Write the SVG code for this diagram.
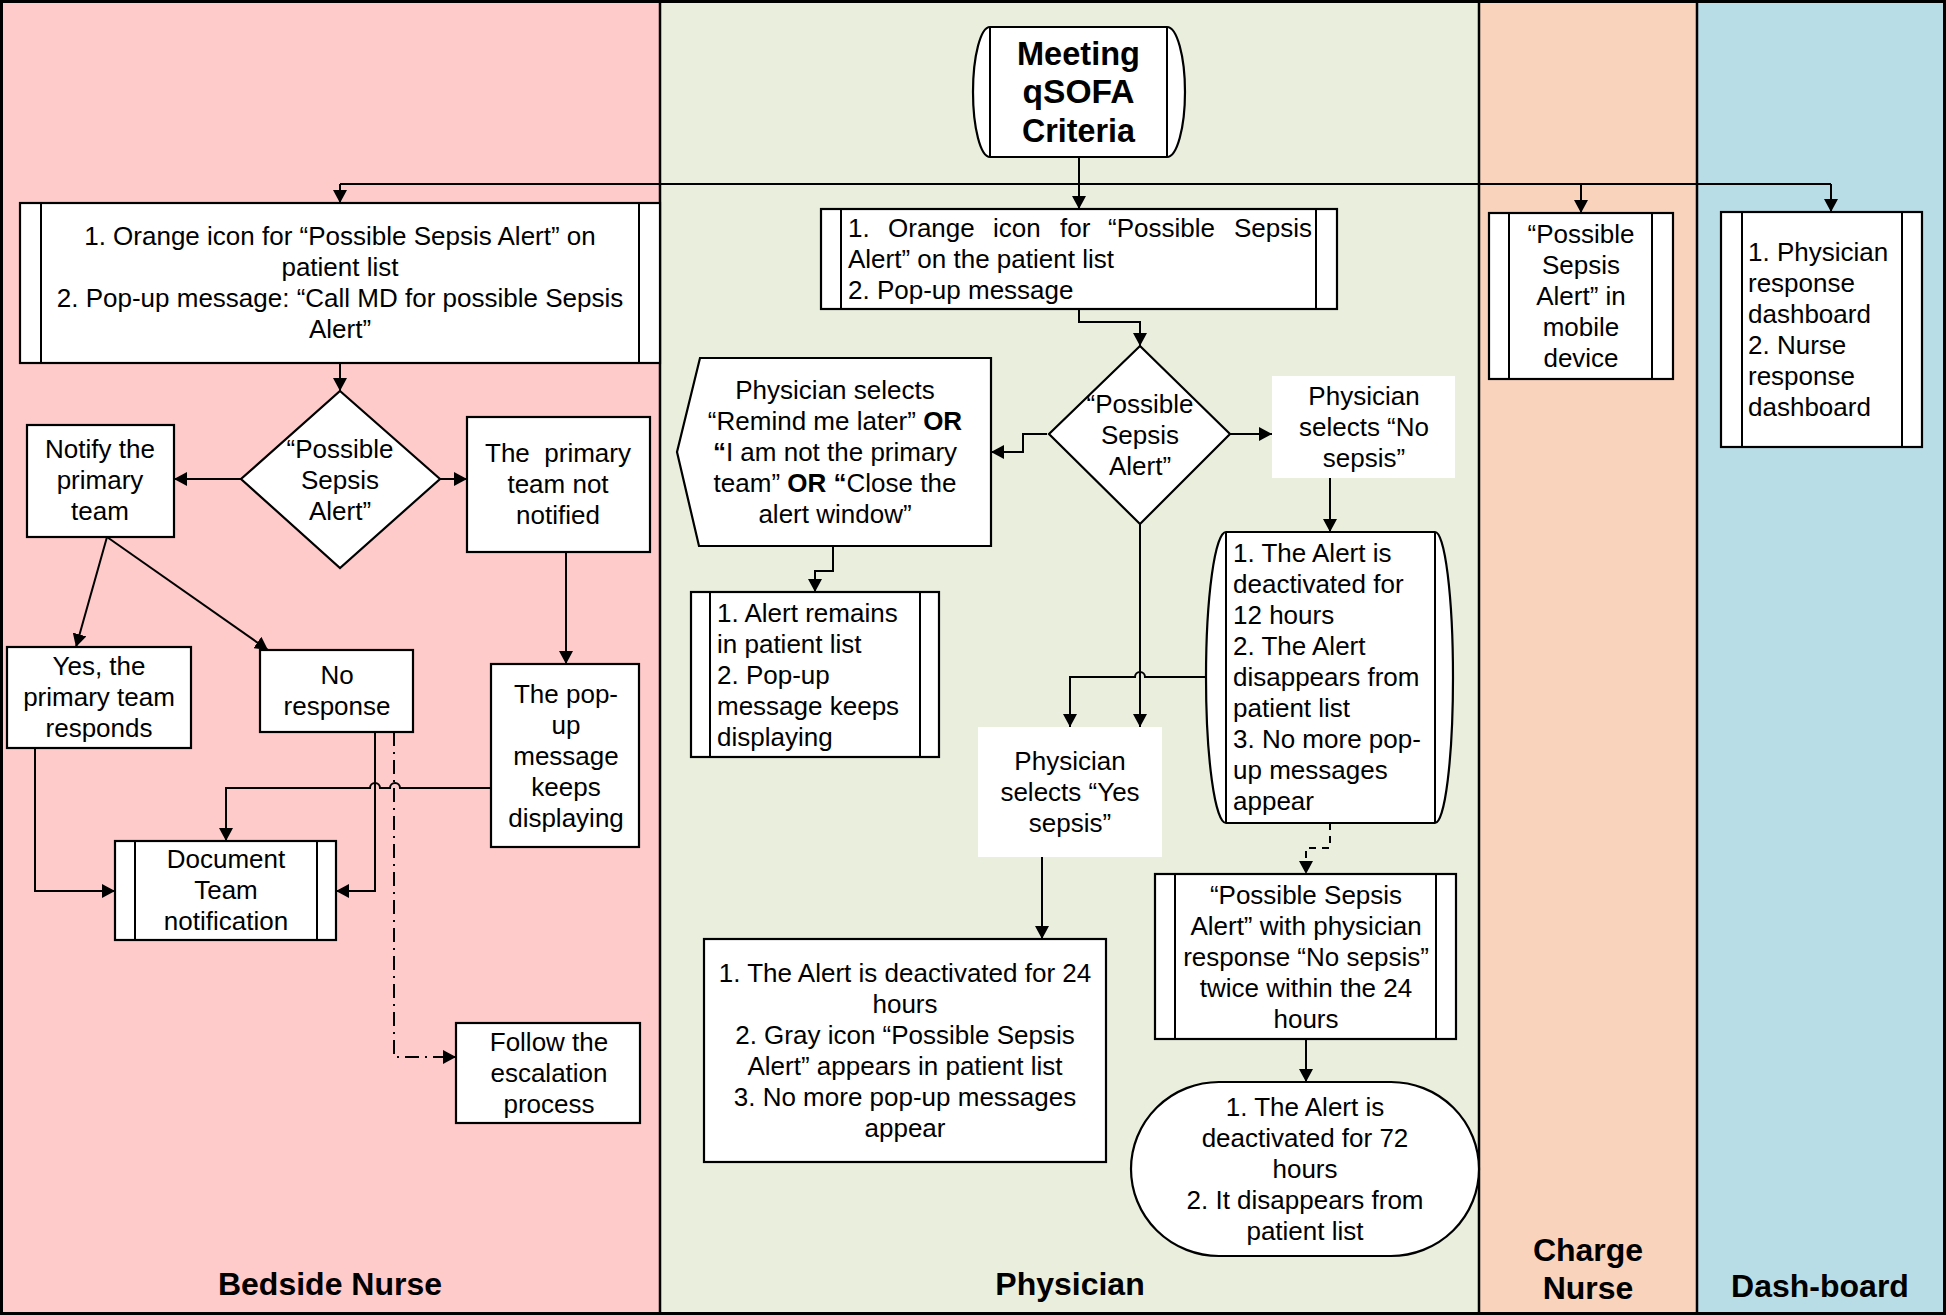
<svg xmlns="http://www.w3.org/2000/svg" width="1946" height="1315" viewBox="0 0 1946 1315">
<defs>
<marker id="ah" viewBox="0 0 13 14" refX="13" refY="7" markerWidth="13" markerHeight="14" markerUnits="userSpaceOnUse" orient="auto"><path d="M0,0 L13,7 L0,14 z" fill="#000"/></marker>
<style>
.box{fill:#fff;stroke:#000;stroke-width:2.2}
.wbox{fill:#fff;stroke:none}
.in{stroke:#000;stroke-width:2;fill:none}
.t{font-family:"Liberation Sans",Arial,sans-serif;font-size:26px;fill:#000}
.c{text-anchor:middle}
.b{font-weight:bold}
.big{font-size:33px}
.lab{font-family:"Liberation Sans",Arial,sans-serif;font-size:32px;font-weight:bold;text-anchor:middle;fill:#000}
.cn{fill:none;stroke:#000;stroke-width:2;marker-end:url(#ah)}
.ln{fill:none;stroke:#000;stroke-width:2}
.lane{stroke:#000;stroke-width:2.5}
</style>
</defs>
<g id="lanes">
<rect x="0" y="0" width="660" height="1315" fill="#FFCACA"/>
<rect x="660" y="0" width="819" height="1315" fill="#E9EEDD"/>
<rect x="1479" y="0" width="218" height="1315" fill="#F9D3BC"/>
<rect x="1697" y="0" width="249" height="1315" fill="#B9DDE7"/>
<line class="lane" x1="660" y1="0" x2="660" y2="1315"/>
<line class="lane" x1="1479" y1="0" x2="1479" y2="1315"/>
<line class="lane" x1="1697" y1="0" x2="1697" y2="1315"/>
<rect x="1.5" y="1.5" width="1943" height="1312" fill="none" stroke="#000" stroke-width="3"/>
<text class="lab" x="330" y="1295">Bedside Nurse</text>
<text class="lab" x="1070" y="1295">Physician</text>
<text class="lab" x="1588" y="1261">Charge</text>
<text class="lab" x="1588" y="1299">Nurse</text>
<text class="lab" x="1820" y="1297">Dash-board</text>
</g>
<g id="connectors">
<path class="ln" d="M340,184 H1831"/>
<path class="cn" d="M1079,157 V209"/>
<path class="cn" d="M340,184 V203"/>
<path class="cn" d="M1581,184 V213"/>
<path class="cn" d="M1831,184 V212"/>
<path class="cn" d="M340,363 V391"/>
<path class="cn" d="M241,479 H174"/>
<path class="cn" d="M440,479 H467"/>
<path class="cn" d="M107,537 L76,647"/>
<path class="cn" d="M107,537 L268,650"/>
<path class="cn" d="M566,552 V664"/>
<path class="cn" d="M35,748 V891 H115"/>
<path class="cn" d="M375,732 V891 H336"/>
<path class="cn" d="M491,788 H400 A5,5 0 0 0 390,788 H380 A5,5 0 0 0 370,788 H226 V841"/>
<path class="cn" d="M394,732 V1057 H456" stroke-dasharray="14,6,2,6"/>
<path class="cn" d="M1079,309 V322 H1140 V346"/>
<path class="cn" d="M1047,434 H1023 V452 H991"/>
<path class="cn" d="M833,546 V571 H815 V592"/>
<path class="cn" d="M1230,434 H1272"/>
<path class="cn" d="M1330,478 V532"/>
<path class="cn" d="M1140,524 V727"/>
<path class="cn" d="M1206,677 H1145 A5,5 0 0 0 1135,677 H1070 V727"/>
<path class="cn" d="M1330,823 V848 H1306 V874" stroke-dasharray="7,6"/>
<path class="cn" d="M1306,1039 V1082"/>
<path class="cn" d="M1042,857 V939"/>
</g>
<g id="n-meeting">
<path class="box" d="M990,27 H1167 A18,65 0 0 1 1167,157 H990 A17,65 0 0 1 990,27 Z"/>
<path class="in" d="M990,27 V157 M1167,27 V157"/>
<text class="t c b big"><tspan x="1078.5" y="65" textLength="123" lengthAdjust="spacingAndGlyphs">Meeting</tspan><tspan x="1078.5" y="103" textLength="112" lengthAdjust="spacingAndGlyphs">qSOFA</tspan><tspan x="1078.5" y="142" textLength="113" lengthAdjust="spacingAndGlyphs">Criteria</tspan></text>
</g>
<g id="n-bn-alert">
<rect class="box" x="20" y="203" width="640" height="160"/>
<path class="in" d="M41,203 V363 M639,203 V363"/>
<text class="t c"><tspan x="340" y="245">1. Orange icon for “Possible Sepsis Alert” on</tspan><tspan x="340" y="276">patient list</tspan><tspan x="340" y="307">2. Pop-up message: “Call MD for possible Sepsis</tspan><tspan x="340" y="338">Alert”</tspan></text>
</g>
<g id="n-bn-decision">
<polygon class="box" points="340,391 440,479 340,568 241,479"/>
<text class="t c"><tspan x="340" y="458">“Possible</tspan><tspan x="340" y="489">Sepsis</tspan><tspan x="340" y="520">Alert”</tspan></text>
</g>
<g id="n-notify">
<rect class="box" x="27" y="425" width="147" height="112"/>
<text class="t c"><tspan x="100" y="458">Notify the</tspan><tspan x="100" y="489">primary</tspan><tspan x="100" y="520">team</tspan></text>
</g>
<g id="n-not-notified">
<rect class="box" x="467" y="417" width="183" height="135"/>
<text class="t c"><tspan x="558" y="462">The&#160; primary</tspan><tspan x="558" y="493">team not</tspan><tspan x="558" y="524">notified</tspan></text>
</g>
<g id="n-yes-responds">
<rect class="box" x="7" y="647" width="184" height="101"/>
<text class="t c"><tspan x="99" y="675">Yes, the</tspan><tspan x="99" y="706">primary team</tspan><tspan x="99" y="737">responds</tspan></text>
</g>
<g id="n-no-response">
<rect class="box" x="260" y="650" width="153" height="82"/>
<text class="t c"><tspan x="337" y="684">No</tspan><tspan x="337" y="715">response</tspan></text>
</g>
<g id="n-popup-keeps">
<rect class="box" x="491" y="664" width="148" height="183"/>
<text class="t c"><tspan x="566" y="703">The pop-</tspan><tspan x="566" y="734">up</tspan><tspan x="566" y="765">message</tspan><tspan x="566" y="796">keeps</tspan><tspan x="566" y="827">displaying</tspan></text>
</g>
<g id="n-document">
<rect class="box" x="115" y="841" width="221" height="99"/>
<path class="in" d="M135,841 V940 M317,841 V940"/>
<text class="t c"><tspan x="226" y="868">Document</tspan><tspan x="226" y="899">Team</tspan><tspan x="226" y="930">notification</tspan></text>
</g>
<g id="n-escalation">
<rect class="box" x="456" y="1023" width="184" height="100"/>
<text class="t c"><tspan x="549" y="1051">Follow the</tspan><tspan x="549" y="1082">escalation</tspan><tspan x="549" y="1113">process</tspan></text>
</g>
<g id="n-ph-alert">
<rect class="box" x="821" y="209" width="516" height="100"/>
<path class="in" d="M841,209 V309 M1316,209 V309"/>
<text class="t"><tspan x="848" y="237">1.</tspan><tspan x="888" y="237">Orange</tspan><tspan x="993" y="237">icon</tspan><tspan x="1060" y="237">for</tspan><tspan x="1108" y="237">“Possible</tspan><tspan x="1234" y="237">Sepsis</tspan><tspan x="848" y="268">Alert” on the patient list</tspan><tspan x="848" y="299">2. Pop-up message</tspan></text>
</g>
<g id="n-ph-decision">
<polygon class="box" points="1140,346 1230,434 1140,524 1049,434"/>
<text class="t c"><tspan x="1140" y="413">“Possible</tspan><tspan x="1140" y="444">Sepsis</tspan><tspan x="1140" y="475">Alert”</tspan></text>
</g>
<g id="n-remind">
<polygon class="box" points="700,358 991,358 991,546 699,546 677,452"/>
<text class="t c"><tspan x="835" y="399">Physician selects</tspan><tspan x="835" y="430">“Remind me later” <tspan class="b">OR</tspan></tspan><tspan x="835" y="461"><tspan class="b">“</tspan>I am not the primary</tspan><tspan x="835" y="492">team” <tspan class="b">OR “</tspan>Close the</tspan><tspan x="835" y="523">alert window”</tspan></text>
</g>
<g id="n-remains">
<rect class="box" x="691" y="592" width="248" height="165"/>
<path class="in" d="M710,592 V757 M920,592 V757"/>
<text class="t"><tspan x="717" y="622">1. Alert remains</tspan><tspan x="717" y="653">in patient list</tspan><tspan x="717" y="684">2. Pop-up</tspan><tspan x="717" y="715">message keeps</tspan><tspan x="717" y="746">displaying</tspan></text>
</g>
<g id="n-no-sepsis">
<rect class="wbox" x="1272" y="376" width="183" height="102"/>
<text class="t c"><tspan x="1364" y="405">Physician</tspan><tspan x="1364" y="436">selects “No</tspan><tspan x="1364" y="467">sepsis”</tspan></text>
</g>
<g id="n-12h">
<path class="box" d="M1226,532 H1435 A18,145.5 0 0 1 1435,823 H1226 A20,145.5 0 0 1 1226,532 Z"/>
<path class="in" d="M1226,532 V823 M1435,532 V823"/>
<text class="t"><tspan x="1233" y="562">1. The Alert is</tspan><tspan x="1233" y="593">deactivated for</tspan><tspan x="1233" y="624">12 hours</tspan><tspan x="1233" y="655">2. The Alert</tspan><tspan x="1233" y="686">disappears from</tspan><tspan x="1233" y="717">patient list</tspan><tspan x="1233" y="748">3. No more pop-</tspan><tspan x="1233" y="779">up messages</tspan><tspan x="1233" y="810">appear</tspan></text>
</g>
<g id="n-yes-sepsis">
<rect class="wbox" x="978" y="727" width="184" height="130"/>
<text class="t c"><tspan x="1070" y="770">Physician</tspan><tspan x="1070" y="801">selects “Yes</tspan><tspan x="1070" y="832">sepsis”</tspan></text>
</g>
<g id="n-24h">
<rect class="box" x="704" y="939" width="402" height="223"/>
<text class="t c"><tspan x="905" y="982">1. The Alert is deactivated for 24</tspan><tspan x="905" y="1013">hours</tspan><tspan x="905" y="1044">2. Gray icon “Possible Sepsis</tspan><tspan x="905" y="1075">Alert” appears in patient list</tspan><tspan x="905" y="1106">3. No more pop-up messages</tspan><tspan x="905" y="1137">appear</tspan></text>
</g>
<g id="n-twice">
<rect class="box" x="1155" y="874" width="301" height="165"/>
<path class="in" d="M1175,874 V1039 M1436,874 V1039"/>
<text class="t c"><tspan x="1306" y="904">“Possible Sepsis</tspan><tspan x="1306" y="935">Alert” with physician</tspan><tspan x="1306" y="966">response “No sepsis”</tspan><tspan x="1306" y="997">twice within the 24</tspan><tspan x="1306" y="1028">hours</tspan></text>
</g>
<g id="n-72h">
<rect class="box" x="1131" y="1082" width="348" height="174" rx="88" ry="87"/>
<text class="t c"><tspan x="1305" y="1116">1. The Alert is</tspan><tspan x="1305" y="1147">deactivated for 72</tspan><tspan x="1305" y="1178">hours</tspan><tspan x="1305" y="1209">2. It disappears from</tspan><tspan x="1305" y="1240">patient list</tspan></text>
</g>
<g id="n-mobile">
<rect class="box" x="1489" y="213" width="184" height="166"/>
<path class="in" d="M1509,213 V379 M1652,213 V379"/>
<text class="t c"><tspan x="1581" y="243">“Possible</tspan><tspan x="1581" y="274">Sepsis</tspan><tspan x="1581" y="305">Alert” in</tspan><tspan x="1581" y="336">mobile</tspan><tspan x="1581" y="367">device</tspan></text>
</g>
<g id="n-dashboard">
<rect class="box" x="1721" y="212" width="201" height="235"/>
<path class="in" d="M1742,212 V447 M1902,212 V447"/>
<text class="t"><tspan x="1748" y="261">1. Physician</tspan><tspan x="1748" y="292">response</tspan><tspan x="1748" y="323">dashboard</tspan><tspan x="1748" y="354">2. Nurse</tspan><tspan x="1748" y="385">response</tspan><tspan x="1748" y="416">dashboard</tspan></text>
</g>
</svg>
